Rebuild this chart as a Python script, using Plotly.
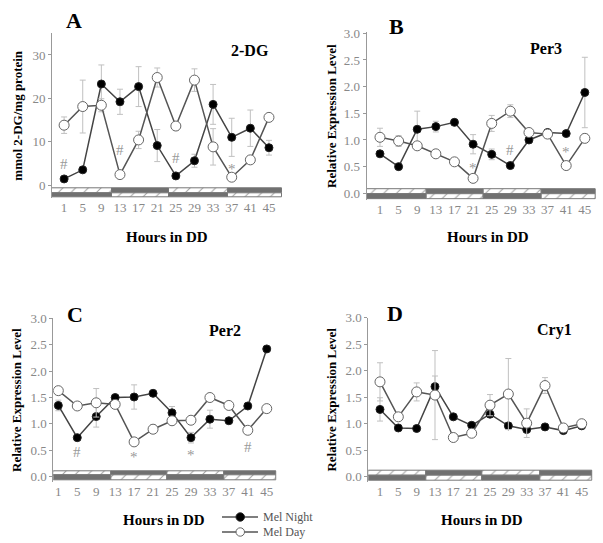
import plotly.graph_objects as go

# hours in constant darkness
hours = [1, 5, 9, 13, 17, 21, 25, 29, 33, 37, 41, 45]

# panel A - 2-DG uptake
a_night = [1.4, 3.5, 23.3, 19.2, 22.7, 9.1, 2.1, 5.6, 18.6, 11.0, 13.1, 8.6]
a_night_err = [0.5, 0.6, 4.4, 2.9, 4.6, 3.7, 0.4, 1.5, 4.6, 4.4, 4.2, 1.7]
a_day = [13.8, 18.1, 18.4, 2.4, 10.4, 24.8, 13.6, 24.2, 8.8, 1.8, 5.8, 15.6]
a_day_err = [1.9, 6.1, 1.5, 0.4, 2.0, 2.2, 1.0, 2.6, 4.2, 0.5, 0.8, 0.5]

# panel B - Per3
b_night = [0.74, 0.50, 1.20, 1.25, 1.33, 0.92, 0.73, 0.52, 1.00, 1.14, 1.12, 1.89]
b_night_err = [0.05, 0.04, 0.34, 0.10, 0.04, 0.18, 0.10, 0.04, 0.06, 0.05, 0.05, 0.66]
b_day = [1.05, 0.98, 0.89, 0.74, 0.59, 0.28, 1.31, 1.54, 1.14, 1.11, 0.52, 1.03]
b_day_err = [0.17, 0.10, 0.06, 0.03, 0.03, 0.04, 0.15, 0.12, 0.05, 0.07, 0.07, 0.08]

# panel C - Per2
c_night = [1.35, 0.74, 1.14, 1.50, 1.51, 1.58, 1.21, 0.74, 1.09, 1.06, 1.34, 2.42]
c_night_err = [0.10, 0.04, 0.20, 0.04, 0.23, 0.03, 0.12, 0.10, 0.17, 0.03, 0.05, 0.03]
c_day = [1.63, 1.34, 1.40, 1.37, 0.66, 0.90, 1.06, 1.07, 1.50, 1.35, 0.88, 1.29]
c_day_err = [0.05, 0.04, 0.27, 0.04, 0.04, 0.08, 0.04, 0.04, 0.05, 0.05, 0.06, 0.03]

# panel D - Cry1
d_night = [1.27, 0.92, 0.91, 1.70, 1.13, 0.97, 1.18, 0.96, 0.89, 0.94, 0.87, 0.96]
d_night_err = [0.22, 0.04, 0.04, 0.20, 0.04, 0.05, 0.05, 0.05, 0.05, 0.04, 0.03, 0.04]
d_day = [1.79, 1.13, 1.60, 1.54, 0.74, 0.82, 1.35, 1.56, 1.01, 1.72, 0.92, 1.00]
d_day_err = [0.36, 0.05, 0.17, 0.84, 0.05, 0.05, 0.20, 0.67, 0.27, 0.15, 0.04, 0.04]

# significance marks (symbol, hour, value)
a_marks = [("#", 1, 4.8), ("#", 13, 8.1), ("#", 25, 6.2), ("*", 37, 3.6)]
b_marks = [("*", 21, 0.47), ("#", 29, 0.81), ("*", 41, 0.78)]
c_marks = [("#", 5, 0.47), ("*", 17, 0.38), ("*", 29, 0.41), ("#", 41, 0.57)]
d_marks = []

series_names = ["Mel Night", "Mel Day"]

SERIF = "Liberation Serif, Times New Roman, serif"
W, H = 603, 543

# panel layout: letter, gene, y title, data, x range, y range, px boxes
panels = [
    dict(letter="A", gene="2-DG", ytitle="mmol 2-DG/mg protein",
         night=a_night, night_err=a_night_err, day=a_day, day_err=a_day_err, marks=a_marks,
         xr=[-1.6, 47.8], yr=[-3, 35], xpx=[52, 282], ypx=[33.3, 198],
         band=[-0.8, -1.85, -2.9], ticks=[0, 10, 20, 30], fmt="d",
         letter_xy=(74, 20), gene_xy=(250, 51), ytitle_x=18, hours_xy=(167, 237)),
    dict(letter="B", gene="Per3", ytitle="Relative Expression Level",
         night=b_night, night_err=b_night_err, day=b_day, day_err=b_day_err, marks=b_marks,
         xr=[-1.85, 47.4], yr=[-0.12, 3.02], xpx=[366.7, 596], ypx=[32.2, 199.7],
         band=[0.075, -0.015, -0.11], ticks=[0, 0.5, 1, 1.5, 2, 2.5, 3], fmt=".1f",
         letter_xy=(396, 27), gene_xy=(546, 48), ytitle_x=332, hours_xy=(488, 237)),
    dict(letter="C", gene="Per2", ytitle="Relative Expression Level",
         night=c_night, night_err=c_night_err, day=c_day, day_err=c_day_err, marks=c_marks,
         xr=[-0.06, 47.1], yr=[-0.09, 3.0], xpx=[53.3, 276.7], ypx=[318.3, 481.5],
         band=[0.107, 0.019, -0.076], ticks=[0, 0.5, 1, 1.5, 2, 2.5, 3], fmt=".1f",
         letter_xy=(75, 314), gene_xy=(225, 330), ytitle_x=17, hours_xy=(164, 520)),
    dict(letter="D", gene="Cry1", ytitle="Relative Expression Level",
         night=d_night, night_err=d_night_err, day=d_day, day_err=d_day_err, marks=d_marks,
         xr=[-1.55, 47.4], yr=[-0.09, 3.0], xpx=[368.3, 592.7], ypx=[317.7, 481.5],
         band=[0.107, 0.019, -0.076], ticks=[0, 0.5, 1, 1.5, 2, 2.5, 3], fmt=".1f",
         letter_xy=(395, 313), gene_xy=(554, 330), ytitle_x=332, hours_xy=(482, 520)),
]

# light/dark bar splits (fraction of the x axis)
band_split = [0, 0.26, 0.51, 0.765, 1]

fig = go.Figure()
annotations = []
shapes = []


def paper_text(text, x, y, size, color="black", angle=0, xanchor="center"):
    return dict(text=text, x=x / W, y=1 - y / H, xref="paper", yref="paper",
                xanchor=xanchor, yanchor="middle", showarrow=False, textangle=angle,
                font=dict(family=SERIF, size=size, color=color))


for i, p in enumerate(panels):
    n = "" if i == 0 else str(i + 1)
    xa, ya = "x" + n, "y" + n

    # light / dark indicator bar under the data
    x0, x1 = p["xr"]
    edges = [x0 + f * (x1 - x0) for f in band_split]
    centers = [(edges[k] + edges[k + 1]) / 2 for k in range(4)]
    widths = [edges[k + 1] - edges[k] for k in range(4)]
    top, mid, bot = p["band"]
    for row_base, row_h, hatch_first in [(mid, top - mid, True), (bot, mid - bot, False)]:
        pats = []
        colors = []
        for k in range(4):
            hatched = (k % 2 == 0) == hatch_first
            pats.append("/" if hatched else "")
            colors.append("white" if hatched else "#707070")
        fig.add_trace(go.Bar(
            x=centers, y=[row_h] * 4, base=[row_base] * 4, width=widths,
            marker=dict(color=colors, line=dict(color="#777", width=1),
                        pattern=dict(shape=pats, fgcolor="#999", size=9, solidity=0.12)),
            xaxis=xa, yaxis=ya, showlegend=False, hoverinfo="skip"))

    fig.add_trace(go.Scatter(
        x=hours, y=p["night"], name=series_names[0], mode="lines+markers",
        line=dict(color="#444", width=1.5),
        marker=dict(symbol="circle", size=8, color="black", line=dict(color="#222", width=1)),
        error_y=dict(type="data", array=p["night_err"], color="#c0c0c0", thickness=1, width=3),
        xaxis=xa, yaxis=ya, showlegend=False))
    fig.add_trace(go.Scatter(
        x=hours, y=p["day"], name=series_names[1], mode="lines+markers",
        line=dict(color="#555", width=1.5),
        marker=dict(symbol="circle", size=10, color="white", line=dict(color="#666", width=1)),
        error_y=dict(type="data", array=p["day_err"], color="#c0c0c0", thickness=1, width=3),
        xaxis=xa, yaxis=ya, showlegend=False))

    fig.update_layout({
        "xaxis" + n: dict(domain=[p["xpx"][0] / W, p["xpx"][1] / W], range=p["xr"], anchor=ya,
                          tickvals=hours, showgrid=False, zeroline=False, showline=False,
                          ticks="", automargin=False,
                          tickfont=dict(family=SERIF, size=13, color="#888")),
        "yaxis" + n: dict(domain=[1 - p["ypx"][1] / H, 1 - p["ypx"][0] / H], range=p["yr"], anchor=xa,
                          tickvals=p["ticks"], tickformat=p["fmt"], showgrid=False, zeroline=False,
                          showline=True, linecolor="#999", linewidth=1, ticks="outside",
                          ticklen=3, tickcolor="#999", automargin=False,
                          tickfont=dict(family=SERIF, size=13, color="#888")),
    })

    # panel letter, gene name, axis titles
    annotations.append(paper_text("<b>" + p["letter"] + "</b>", *p["letter_xy"], 22))
    annotations.append(paper_text("<b>" + p["gene"] + "</b>", *p["gene_xy"], 16))
    ymid = (p["ypx"][0] + p["ypx"][1]) / 2
    annotations.append(paper_text("<b>" + p["ytitle"] + "</b>", p["ytitle_x"], ymid, 13, angle=-90))
    annotations.append(paper_text("<b>Hours in DD</b>", *p["hours_xy"], 15))

    for sym, hx_, val in p["marks"]:
        annotations.append(dict(text=sym, x=hx_, y=val, xref=xa, yref=ya, showarrow=False,
                                xanchor="center", yanchor="middle",
                                font=dict(family=SERIF, size=15, color="#999")))

# legend drawn by hand so it sits tight like the original
leg_rows = [(517, "black", "#222"), (532, "white", "#666")]
for (ly, fill, edge), name in zip(leg_rows, series_names):
    shapes.append(dict(type="line", xref="paper", yref="paper",
                       x0=222 / W, x1=258 / W, y0=1 - ly / H, y1=1 - ly / H,
                       line=dict(color="#555", width=1.5)))
    shapes.append(dict(type="circle", xref="paper", yref="paper",
                       x0=236 / W, x1=244.5 / W, y0=1 - (ly + 4.2) / H, y1=1 - (ly - 4.2) / H,
                       fillcolor=fill, line=dict(color=edge, width=1)))
    annotations.append(paper_text(name, 261, ly, 12, color="#555", xanchor="left"))

fig.update_layout(
    width=W, height=H, margin=dict(l=0, r=0, t=0, b=0),
    paper_bgcolor="white", plot_bgcolor="white",
    barmode="overlay", bargap=0, showlegend=False,
    annotations=annotations, shapes=shapes,
)

# page body has a default 8px margin, drop it so the figure fills the window
fig.write_html("out.html", config={"displayModeBar": False},
               post_script="document.body.style.margin='0';")
